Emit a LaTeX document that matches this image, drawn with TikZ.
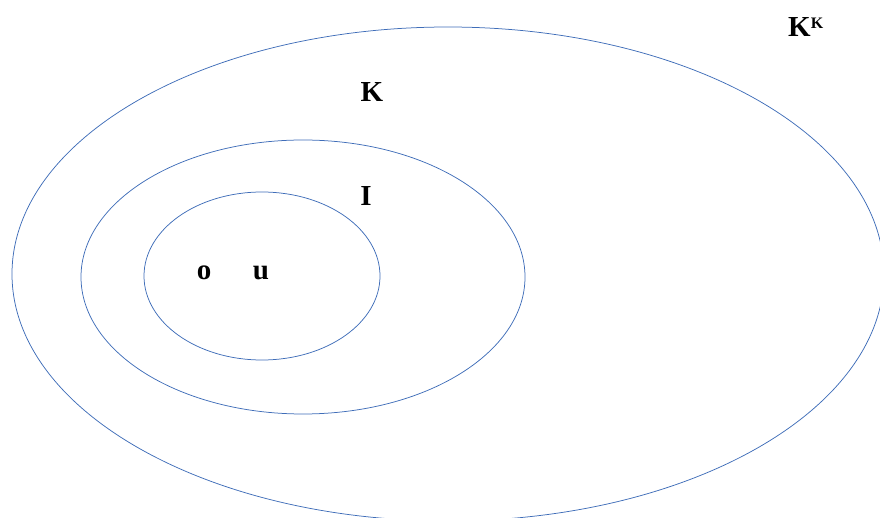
\documentclass[tikz,border=0pt]{standalone}
\usepackage{fontspec}
\setmainfont{Liberation Serif}
\usetikzlibrary{shapes.geometric}
\begin{document}
\begin{tikzpicture}[x=1pt,y=-1pt]
\definecolor{ringblue}{HTML}{3F6DB8}
\tikzset{ring/.style={draw=ringblue, line width=0.75pt, ellipse, inner sep=0pt},
  lbl/.style={font=\fontsize{29}{32}\selectfont\bfseries, inner sep=0pt}}
\useasboundingbox (0,0) rectangle (880,518);
\clip (0,0) rectangle (880,518);
\node[ring, minimum width=872pt, minimum height=494pt] (outer) at (448,274) {};
\node[ring, minimum width=444pt, minimum height=274pt] (mid) at (303,277) {};
\node[ring, minimum width=236pt, minimum height=168pt] (inner) at (262,276) {};
\node[lbl, anchor=base west] (kk) at (788,37) {K\raisebox{8pt}{\fontsize{16}{18}\selectfont K}};
\node[lbl] (k) at (372,92) {K};
\node[lbl] (i) at (366,196) {I};
\node[lbl, anchor=base] (o) at (204,280) {o};
\node[lbl, anchor=base] (u) at (261,280) {u};
\end{tikzpicture}
\end{document}
